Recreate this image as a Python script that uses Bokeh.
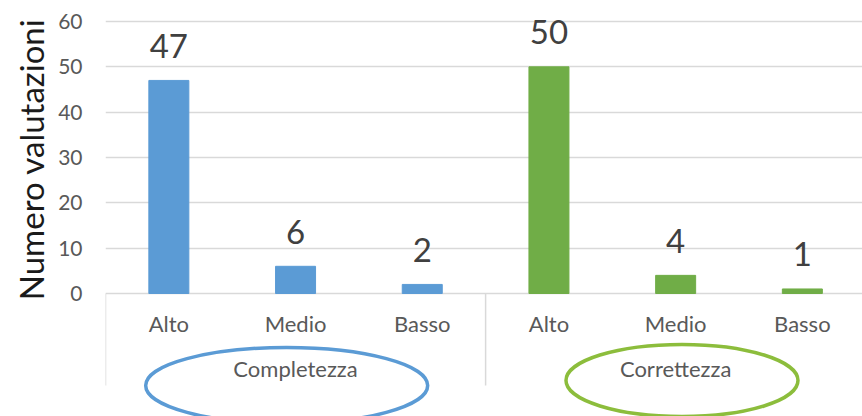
import numpy as np
from bokeh.plotting import figure
from bokeh.models import Range1d, FixedTicker, Title, ColumnDataSource
from bokeh.core.properties import value
from bokeh.embed import file_html
from bokeh.resources import INLINE

# ---- data ----
groups = ["Completezza", "Correttezza"]
levels = ["Alto", "Medio", "Basso"]
completezza = [47, 6, 2]
correttezza = [50, 4, 1]
y_ticks = [0, 10, 20, 30, 40, 50, 60]
y_title = "Numero valutazioni"

# ---- styles ----
FONT = "Lato"
bar_colors = ["#5b9bd5", "#70ad47"]
ellipse_colors = ["#5b9bd5", "#8cbd3c"]
grid_color = "#d9d9d9"

W, H = 862, 416
LEFT = 105
px_per_unit_y = 272 / 60.0          # 0 at y=293px, 60 at y=21px
y_top = 60 + 21 / px_per_unit_y
y_bot = -(H - 293) / px_per_unit_y
x_end = (W - LEFT) / 126.7

p = figure(width=W, height=H, output_backend="svg", toolbar_location=None,
           x_range=Range1d(0, x_end), y_range=Range1d(y_bot, y_top),
           x_axis_location=None, min_border_left=LEFT, min_border_right=0,
           min_border_top=0, min_border_bottom=0)
p.outline_line_color = None
p.background_fill_color = "white"
p.border_fill_color = "white"
p.xgrid.visible = False
p.ygrid.grid_line_color = grid_color
p.ygrid.grid_line_width = 1.3
p.yaxis.ticker = FixedTicker(ticks=y_ticks)
p.yaxis.axis_line_color = None
p.yaxis.major_tick_line_color = None
p.yaxis.minor_tick_line_color = None
p.yaxis.major_tick_in = 0
p.yaxis.major_tick_out = 0
p.yaxis.major_label_standoff = 23
p.yaxis.major_label_text_font = FONT
p.yaxis.major_label_text_font_size = "21px"
p.yaxis.major_label_text_color = "#595959"

# ---- bars ----
series = [completezza, correttezza]
xs, tops, cols, labs = [], [], [], []
for gi, vals in enumerate(series):
    for li, v in enumerate(vals):
        xs.append(gi * len(levels) + li + 0.5)
        tops.append(v)
        cols.append(bar_colors[gi])
        labs.append(levels[li])
src = ColumnDataSource(dict(x=xs, top=tops, color=cols, lab=labs,
                            vtxt=[str(t) for t in tops],
                            vy=[t + 34.5 / px_per_unit_y for t in tops],
                            cy=[-30 / px_per_unit_y] * len(xs)))
p.vbar(x="x", top="top", width=40 / 126.7, bottom=0, color="color", source=src)

# value labels
p.text(x="x", y="vy", text="vtxt", source=src, text_align="center",
       text_baseline="middle", text_font=value(FONT), text_font_size="33px",
       text_color="#404040")
# category labels
p.text(x="x", y="cy", text="lab", source=src, text_align="center",
       text_baseline="middle", text_font=value(FONT), text_font_size="22px",
       text_color="#595959")

# group separators
n = len(levels)
sep_x = [g * n for g in range(len(groups) + 1)]
p.segment(x0=sep_x, y0=[0] * len(sep_x), x1=sep_x,
          y1=[-92 / px_per_unit_y] * len(sep_x), line_color=grid_color, line_width=1.5)

# group labels
gx = [g * n + n / 2 for g in range(len(groups))]
p.text(x=gx, y=[-75 / px_per_unit_y] * len(gx), text=groups, text_align="center",
       text_baseline="middle", text_font=value(FONT), text_font_size="22px",
       text_color="#595959")

# ellipses around group labels
ell_dx = [-0.07, 0.05]
ell_w = [282, 232]
ell_cy = [-92 / px_per_unit_y, -87 / px_per_unit_y]
p.ellipse(x=[gx[i] + ell_dx[i] for i in range(len(gx))], y=ell_cy,
          width=ell_w, height=[76, 72], width_units="screen", height_units="screen",
          fill_color=None, line_color=ellipse_colors, line_width=3.5)

# y axis title, placed as a side title on the left
p.add_layout(Title(text=y_title, align="right", offset=13, text_font=FONT,
                   text_font_size="33px", text_font_style="normal",
                   text_color="#1a1a1a", standoff=0, padding=5), "left")

open("out.html", "w").write(file_html(p, INLINE))
